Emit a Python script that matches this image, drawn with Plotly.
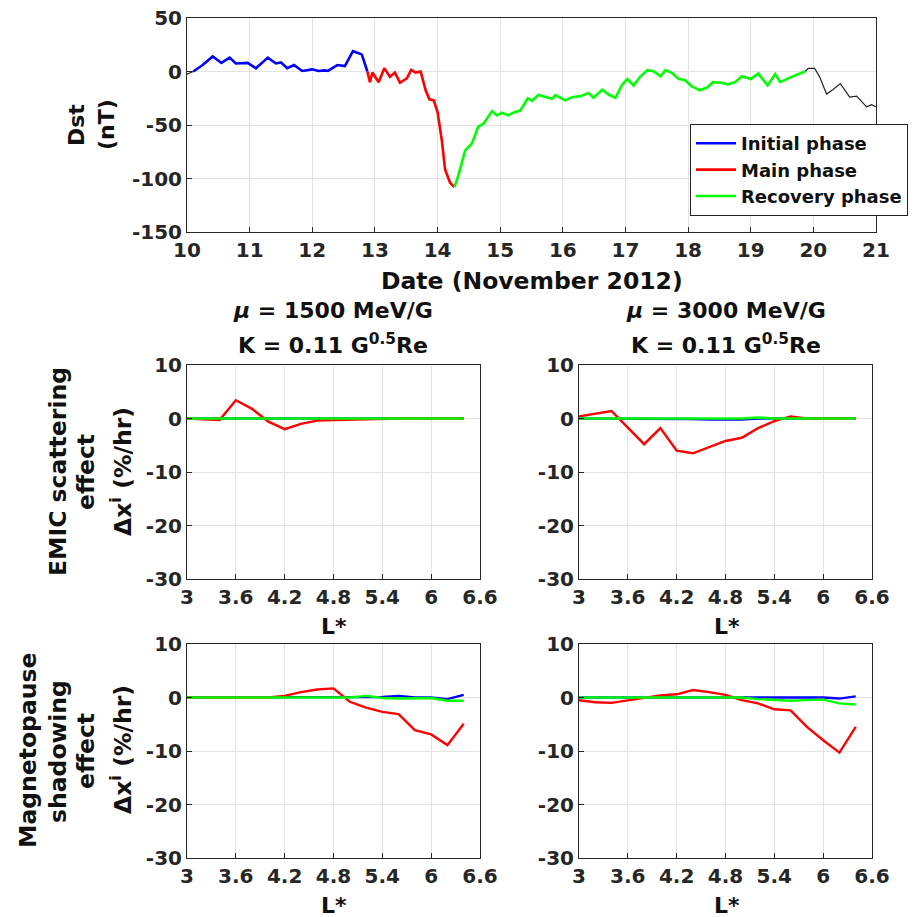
import plotly.graph_objects as go

# ---------------- Data ----------------
# Dst index (nT) vs date (day of November 2012)
before_t = [10.0, 10.1]
before_v = [-2.5, 0]
initial_t = [10.1, 10.25, 10.41, 10.55, 10.68, 10.78, 10.97, 11.1, 11.29, 11.42, 11.5, 11.6,
             11.71, 11.84, 12.0, 12.1, 12.2, 12.25, 12.4, 12.52, 12.65, 12.79, 12.88]
initial_v = [0, 6, 14, 8, 13, 7.5, 8, 3, 13, 7.5, 8.5, 3, 6, 0.5, 2, 0.5, 1, 0.5, 6, 5, 19, 16, 0]
main_t = [12.88, 12.92, 12.96, 13.06, 13.15, 13.24, 13.32, 13.4, 13.51, 13.58, 13.65, 13.73,
          13.81, 13.87, 13.94, 14.0, 14.07, 14.12, 14.2, 14.27]
main_v = [0, -10, -1, -10, 3, -5, -1, -10.5, -6.5, 1.5, -1, 0, -17.5, -26, -27, -38, -65,
          -91.5, -104, -108]
recovery_t = [14.27, 14.33, 14.44, 14.55, 14.65, 14.73, 14.87, 14.95, 15.03, 15.13,
              15.21, 15.32, 15.44, 15.51, 15.61, 15.72, 15.83, 15.88, 16.04, 16.15,
              16.28, 16.41, 16.49, 16.63, 16.73, 16.84, 16.94, 17.03, 17.13, 17.24,
              17.35, 17.45, 17.56, 17.64, 17.74, 17.85, 17.95, 18.06, 18.19, 18.3,
              18.4, 18.53, 18.64, 18.75, 18.86, 19.0, 19.12, 19.27, 19.39, 19.47,
              19.65, 19.87]
recovery_v = [-108, -97.5, -74, -67, -51.5, -49, -37, -41, -38.5, -41,
              -38.5, -36.5, -25, -27.5, -22, -24, -25.5, -22, -27, -24,
              -23, -20, -24.5, -17, -21.5, -24.5, -13, -7, -13, -4.5,
              1.3, 0.3, -4.5, 1.3, -1.3, -7, -8, -14, -17.5, -15,
              -10, -10.5, -12, -10, -4.5, -7, -2, -13, -2.5, -10,
              -5, 0]
after_t = [19.87, 19.92, 20.02, 20.1, 20.21, 20.31, 20.43, 20.58, 20.69, 20.85, 20.93, 21.0]
after_v = [0, 3, 3, -5, -21, -17, -11.3, -24, -23, -33, -31, -33]

# L* grid
L_star = [3.0, 3.2, 3.4, 3.6, 3.8, 4.0, 4.2, 4.4, 4.6, 4.8, 5.0, 5.2, 5.4, 5.6, 5.8, 6.0, 6.2, 6.4]

# EMIC scattering effect (%/hr)
emic1500_init = [0, 0, 0, 0, 0, 0, 0, 0, 0, 0, 0, 0, 0, 0, 0, 0, 0, 0]
emic1500_main = [0, -0.2, -0.3, 3.4, 1.8, -0.6, -2.0, -1.0, -0.4, -0.3, -0.2, -0.1, 0, 0, 0, 0, 0, 0]
emic1500_rec = [0, 0, 0, 0, 0, 0, 0, 0, 0, 0, 0, 0, 0, 0, 0, 0, 0, 0]
emic3000_init = [0, 0, 0, 0, 0, 0, 0, -0.1, -0.2, -0.2, -0.2, 0, 0, 0, 0, 0, 0, 0]
emic3000_main = [0.4, 0.9, 1.4, -1.7, -4.8, -1.8, -6.0, -6.5, -5.3, -4.2, -3.6, -1.8, -0.5, 0.4, 0, 0, 0, 0]
emic3000_rec = [0, 0, 0, 0, 0, 0, 0, 0, 0, 0, 0, 0.2, 0, 0, 0, 0, 0, 0]

# Magnetopause shadowing effect (%/hr)
mp1500_init = [0, 0, 0, 0, 0, 0, 0, 0, 0, 0, 0, 0.1, 0.1, 0.3, 0, 0, -0.3, 0.5]
mp1500_main = [0, 0, 0, 0, 0.1, 0, 0.3, 1.0, 1.5, 1.7, -0.8, -1.9, -2.7, -3.1, -6.1, -6.9, -8.9, -4.9]
mp1500_rec = [0, 0, 0, 0, 0, 0, 0.1, 0.1, 0, 0, 0, 0.3, -0.1, -0.2, -0.1, -0.1, -0.6, -0.6]
mp3000_init = [0, 0, 0, 0, 0, 0, 0, 0, 0, 0, 0, 0, 0, 0, 0, 0, -0.2, 0.2]
mp3000_main = [-0.5, -0.9, -1.0, -0.5, 0, 0.4, 0.6, 1.4, 1.0, 0.5, -0.5, -1.1, -2.2, -2.4, -5.5, -8.0, -10.3, -5.5]
mp3000_rec = [0, 0, 0, 0, 0, 0, 0, 0, 0, 0, 0, -0.3, -0.5, -0.6, -0.5, -0.4, -1.1, -1.3]

# Tick values / labels
dst_xticks = [10, 11, 12, 13, 14, 15, 16, 17, 18, 19, 20, 21]
dst_yticks = [50, 0, -50, -100, -150]
dst_ytext = ["50", "0", "-50", "-100", "-150"]
L_ticks = [3, 3.6, 4.2, 4.8, 5.4, 6, 6.6]
dx_ticks = [10, 0, -10, -20, -30]
dx_text = ["10", "0", "-10", "-20", "-30"]

# ---------------- Figure ----------------
OFF = 8                      # page body margin
W, H = 922 - OFF, 917 - OFF
FONT = "DejaVu Sans"
BLUE, RED, GREEN = "#0000FF", "#FF0000", "#00FF00"
AX = "#262626"
GRID = "#e3e3e3"

fig = go.Figure()

fig.add_trace(go.Scatter(x=before_t, y=before_v, mode="lines", line=dict(color="#222", width=1.2),
                         showlegend=False, xaxis="x", yaxis="y"))
fig.add_trace(go.Scatter(x=after_t, y=after_v, mode="lines", line=dict(color="#222", width=1.2),
                         showlegend=False, xaxis="x", yaxis="y"))
fig.add_trace(go.Scatter(x=initial_t, y=initial_v, mode="lines", line=dict(color=BLUE, width=2.6),
                         name="Initial phase", xaxis="x", yaxis="y"))
fig.add_trace(go.Scatter(x=main_t, y=main_v, mode="lines", line=dict(color=RED, width=2.6),
                         name="Main phase", xaxis="x", yaxis="y"))
fig.add_trace(go.Scatter(x=recovery_t, y=recovery_v, mode="lines", line=dict(color=GREEN, width=2.6),
                         name="Recovery phase", xaxis="x", yaxis="y"))

panels = [
    ("x2", "y2", emic1500_init, emic1500_main, emic1500_rec),
    ("x3", "y3", emic3000_init, emic3000_main, emic3000_rec),
    ("x4", "y4", mp1500_init, mp1500_main, mp1500_rec),
    ("x5", "y5", mp3000_init, mp3000_main, mp3000_rec),
]
for xa, ya, vi, vm, vr in panels:
    for vals, col in ((vi, BLUE), (vm, RED), (vr, GREEN)):
        fig.add_trace(go.Scatter(x=L_star, y=vals, mode="lines", line=dict(color=col, width=2.4),
                                 showlegend=False, xaxis=xa, yaxis=ya))

def px_x(p):
    return (p - OFF) / W

def px_y(p):
    return 1 - (p - OFF) / H

tickfont = dict(family=FONT, size=20, color=AX, weight="bold")

def xaxis(dom, rng, tickvals, anchor):
    return dict(domain=dom, range=rng, tickvals=tickvals, anchor=anchor, automargin=False,
                showline=True, linecolor=AX, linewidth=1, mirror=True,
                ticks="inside", ticklen=5, tickcolor=AX, ticklabeloverflow="allow",
                showgrid=True, gridcolor=GRID, zeroline=False, tickfont=tickfont)

def yaxis(dom, rng, tickvals, ticktext, anchor):
    return dict(domain=dom, range=rng, tickvals=tickvals, ticktext=ticktext, anchor=anchor,
                automargin=False, showline=True, linecolor=AX, linewidth=1, mirror=True,
                ticks="inside", ticklen=5, tickcolor=AX, ticklabeloverflow="allow",
                showgrid=True, gridcolor=GRID, zeroline=False, tickfont=tickfont)

top_x = [px_x(187), px_x(876)]
top_y = [px_y(232), px_y(18)]
lx = [px_x(187), px_x(480)]
rx = [px_x(579), px_x(872)]
r1y = [px_y(579), px_y(365)]
r2y = [px_y(858), px_y(644)]

layout = dict(
    width=W, height=H, margin=dict(l=0, r=0, t=0, b=0, pad=0, autoexpand=False),
    paper_bgcolor="white", plot_bgcolor="white",
    font=dict(family=FONT, size=18, color="#111", weight="bold"),
    xaxis=xaxis(top_x, [10, 21], dst_xticks, "y"),
    yaxis=yaxis(top_y, [-150, 50], dst_yticks, dst_ytext, "x"),
    xaxis2=xaxis(lx, [3, 6.6], L_ticks, "y2"),
    yaxis2=yaxis(r1y, [-30, 10], dx_ticks, dx_text, "x2"),
    xaxis3=xaxis(rx, [3, 6.6], L_ticks, "y3"),
    yaxis3=yaxis(r1y, [-30, 10], dx_ticks, dx_text, "x3"),
    xaxis4=xaxis(lx, [3, 6.6], L_ticks, "y4"),
    yaxis4=yaxis(r2y, [-30, 10], dx_ticks, dx_text, "x4"),
    xaxis5=xaxis(rx, [3, 6.6], L_ticks, "y5"),
    yaxis5=yaxis(r2y, [-30, 10], dx_ticks, dx_text, "x5"),
    legend=dict(x=px_x(690), y=px_y(124), xanchor="left", yanchor="top",
                bgcolor="white", bordercolor="#222", borderwidth=1,
                font=dict(family=FONT, size=18, color="#111", weight="bold"),
                tracegroupgap=0, itemwidth=40),
    showlegend=True,
)
fig.update_layout(**layout)

# Dashed zero lines
for xa, ya in (("x", "y"), ("x2", "y2"), ("x3", "y3"), ("x4", "y4"), ("x5", "y5")):
    fig.add_shape(type="line", xref=f"{xa} domain", yref=ya, x0=0, x1=1, y0=0, y1=0,
                  line=dict(color="#333", width=1.2, dash="8px,5px"), layer="below")

def ann(text, x, y, size=19, angle=0):
    fig.add_annotation(text=text, x=px_x(x), y=px_y(y), xref="paper", yref="paper",
                       showarrow=False, textangle=angle, xanchor="center", yanchor="middle",
                       font=dict(family=FONT, size=size, color="#111", weight="bold"))

ann("Dst", 76, 125, size=22, angle=-90)
ann("(nT)", 106, 125, size=22, angle=-90)
ann("Date (November 2012)", 532, 281, size=23.5)

ann("<i>μ</i> = 1500 MeV/G", 333, 311, size=22)
ann("K = 0.11 G<sup>0.5</sup>Re", 333, 344, size=22)
ann("<i>μ</i> = 3000 MeV/G", 726, 311, size=22)
ann("K = 0.11 G<sup>0.5</sup>Re", 726, 344, size=22)

ann("L*", 334, 626, size=22)
ann("L*", 727, 626, size=22)
ann("L*", 334, 905, size=22)
ann("L*", 727, 905, size=22)

ann("EMIC scattering", 58, 472, size=23.5, angle=-90)
ann("effect", 86, 472, size=23.5, angle=-90)
ann("Δx<sup>i</sup> (%/hr)", 121, 472, size=23.5, angle=-90)

ann("Magnetopause", 28, 751, size=23.5, angle=-90)
ann("shadowing", 58, 752, size=23.5, angle=-90)
ann("effect", 86, 751, size=23.5, angle=-90)
ann("Δx<sup>i</sup> (%/hr)", 121, 750, size=23.5, angle=-90)

fig.write_html("out.html")
